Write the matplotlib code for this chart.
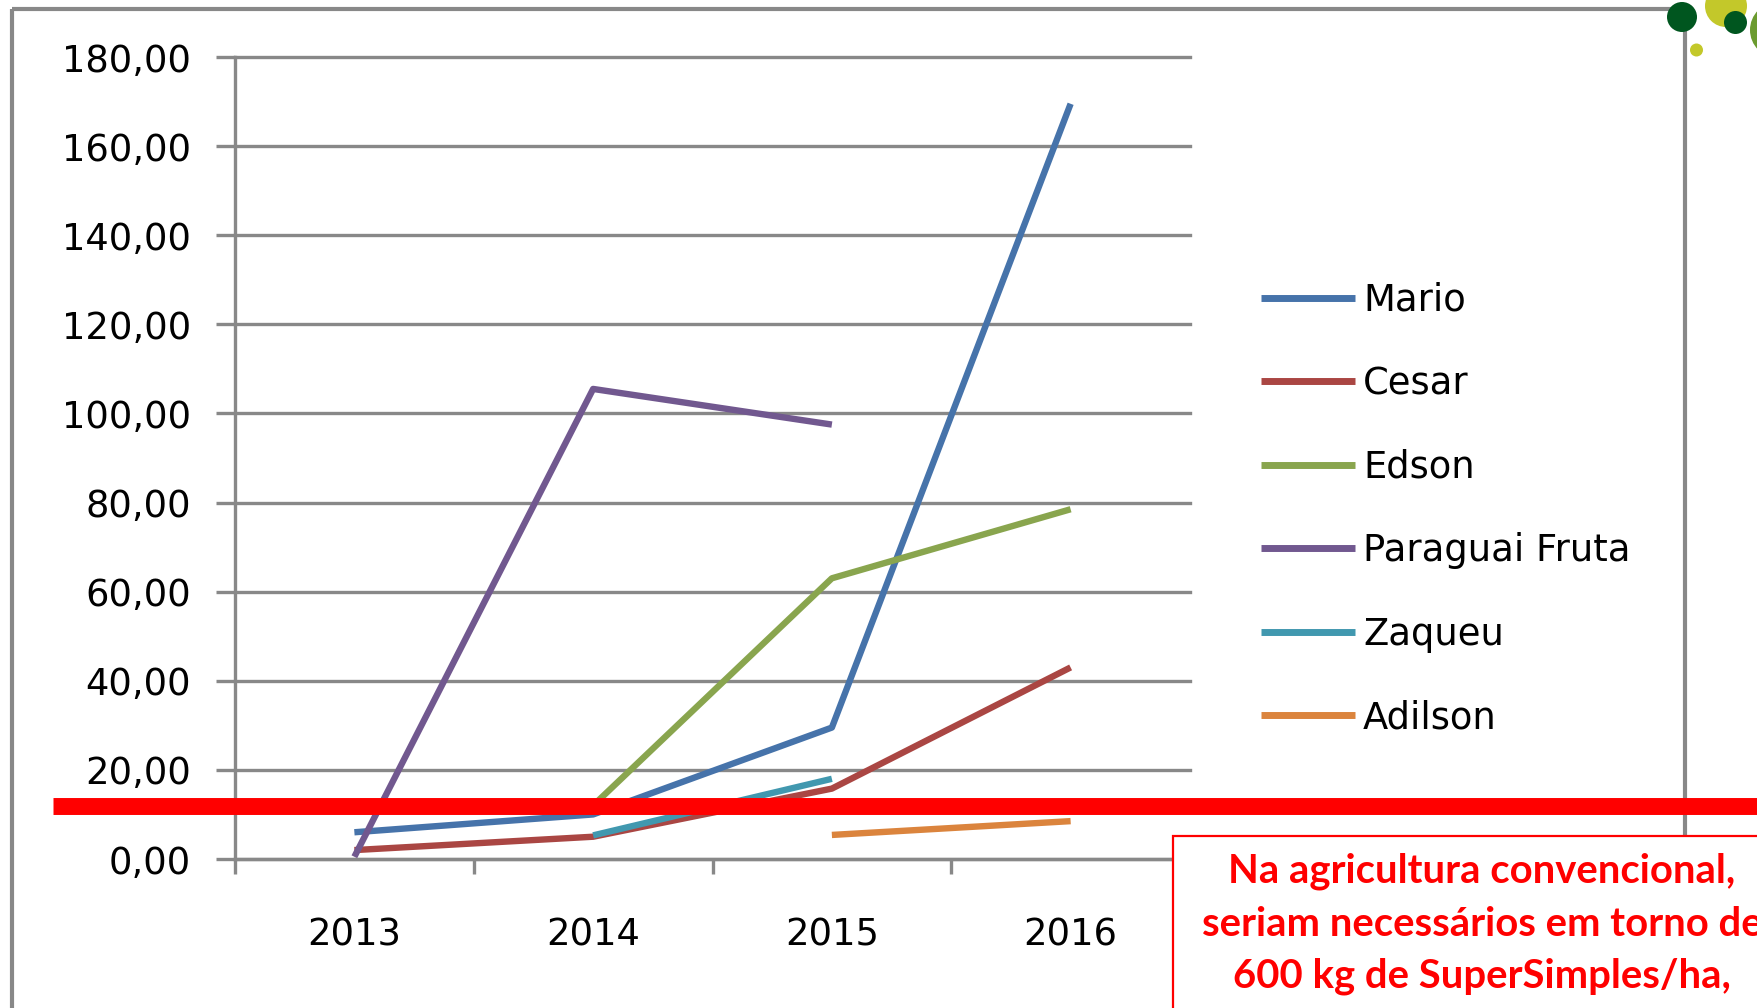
import numpy as np
import matplotlib
matplotlib.use("Agg")
from matplotlib import pyplot as plt
from matplotlib.patches import Rectangle, Circle

years = ["2013", "2014", "2015", "2016"]
nan = np.nan
series_names = ["Mario", "Cesar", "Edson", "Paraguai Fruta", "Zaqueu", "Adilson"]
mario = [6.0, 10.0, 29.5, 169.5]
cesar = [2.0, 5.0, 15.8, 43.0]
edson = [nan, 12.0, 63.0, 78.5]
paraguai = [0.5, 105.5, 97.5, nan]
zaqueu = [nan, 5.3, 18.0, nan]
adilson = [nan, nan, 5.4, 8.5]
threshold = 11.8
y_ticks = [0, 20, 40, 60, 80, 100, 120, 140, 160, 180]
note = ["Na agricultura convencional,",
        "seriam necessários em torno de",
        "600 kg de SuperSimples/ha,"]

colors = ["#4673AA", "#AA4643", "#89A54E", "#71588F", "#4198AF", "#DB843D"]
grey = "#888888"

W, H = 1757, 1008
fig = plt.figure(figsize=(W / 100, H / 100), dpi=100)
plt.rcParams['font.family'] = ['DejaVu Sans']

# slide frame behind everything
back = fig.add_axes([0, 0, 1, 1], zorder=-1)
back.set_xlim(0, W)
back.set_ylim(H, 0)
back.axis('off')
back.plot([12, 1685], [9, 9], color=grey, lw=3, solid_capstyle='butt')
back.plot([12, 12], [9, H], color=grey, lw=3, solid_capstyle='butt')
back.plot([1685, 1685], [9, 835], color=grey, lw=3, solid_capstyle='butt')

ax = fig.add_axes([235 / W, 1 - 859 / H, 955 / W, (859 - 57) / H])
ax.patch.set_alpha(0)
x = np.arange(len(years))
for name, vals, c in zip(series_names, [mario, cesar, edson, paraguai, zaqueu, adilson], colors):
    ax.plot(x, vals, color=c, lw=4.6, label=name, solid_joinstyle='round', solid_capstyle='butt')

ax.set_xlim(-0.5, len(years) - 0.5)
ax.set_ylim(0, 180)

# y axis
ax.set_yticks(y_ticks)
ax.set_yticklabels([f"{v:.2f}".replace('.', ',') for v in y_ticks])
ax.tick_params(axis='y', length=13.7, width=2.4, color=grey, pad=18, labelsize=26.6)
ax.yaxis.grid(True, color=grey, lw=2.4)
for gl in ax.get_ygridlines():
    gl.set_clip_on(False)

# x axis: ticks between categories, labels at centres
ax.set_xticks(np.arange(-0.5, len(years)))
ax.set_xticklabels([])
ax.set_xticks(x, minor=True)
ax.set_xticklabels(years, minor=True)
ax.tick_params(axis='x', which='major', length=10.8, width=2.4, color=grey)
ax.tick_params(axis='x', which='minor', length=0, pad=41.5, labelsize=26.6)

for s in ['top', 'right']:
    ax.spines[s].set_visible(False)
for s in ['left', 'bottom']:
    ax.spines[s].set_color(grey)
    ax.spines[s].set_linewidth(2.4)

# red reference line across the slide
ax.axhline(threshold, xmin=(53 - 235) / 955, xmax=(W + 10 - 235) / 955, color="#FF0000",
           lw=12.2, clip_on=False, zorder=10, solid_capstyle='butt')

leg = ax.legend(loc='center left', bbox_to_anchor=(1261 / W, 1 - 509 / H), bbox_transform=fig.transFigure,
                frameon=False, fontsize=26.6, handlelength=2.54, handletextpad=0.22,
                labelspacing=1.26, borderpad=0, borderaxespad=0)
for h in leg.get_lines():
    h.set_linewidth(5)

# decorations and note box on top
over = fig.add_axes([0, 0, 1, 1], zorder=5)
over.set_xlim(0, W)
over.set_ylim(H, 0)
over.axis('off')
over.patch.set_alpha(0)

over.add_patch(Circle((1726, 6), 21, color="#C3C82A", lw=0))
over.add_patch(Circle((1778, 30), 28, color="#6B9B2F", lw=0))
over.add_patch(Circle((1682, 17), 15, color="#00561F", lw=0))
over.add_patch(Circle((1735.5, 22.5), 11.5, color="#00561F", lw=0))
over.add_patch(Circle((1696.5, 50), 6.5, color="#C3C82A", lw=0))

over.add_patch(Rectangle((1173, 836), 700, 300, fc="white", ec="#FF0000", lw=1.6))
over.text(1482, 924, "\n".join(note), ha='center', va='center', color="#FF0000",
          fontsize=28.8, fontweight='bold', family=['Lato', 'DejaVu Sans'], linespacing=1.5,
          clip_on=True)

fig.savefig("out.png", dpi=100)
